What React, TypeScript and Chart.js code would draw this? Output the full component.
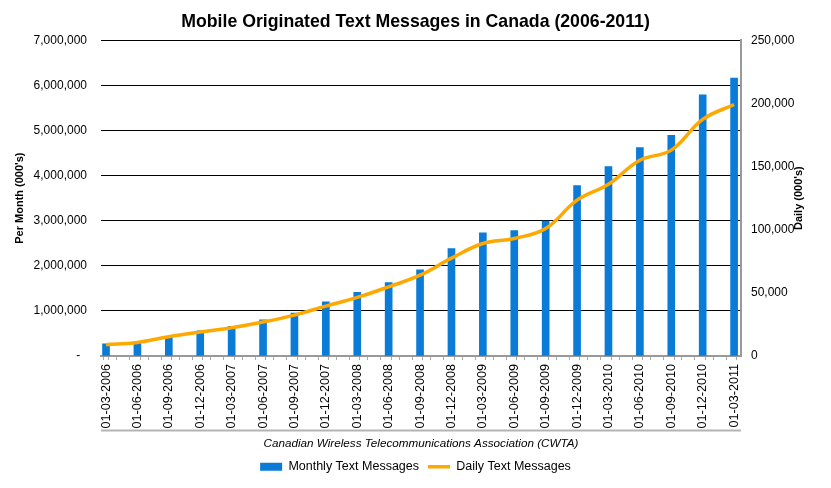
import { useEffect, useRef } from 'react'
import { Chart, registerables } from 'chart.js'

Chart.register(...registerables)

const FONT = "'Liberation Sans', Arial, sans-serif"

const dateLabels = [
  '01-03-2006', '01-06-2006', '01-09-2006', '01-12-2006',
  '01-03-2007', '01-06-2007', '01-09-2007', '01-12-2007',
  '01-03-2008', '01-06-2008', '01-09-2008', '01-12-2008',
  '01-03-2009', '01-06-2009', '01-09-2009', '01-12-2009',
  '01-03-2010', '01-06-2010', '01-09-2010', '01-12-2010',
  '01-03-2011',
]

// thousands of messages per month
const monthlyMessages = [
  270000, 290000, 420000, 560000, 660000, 800000, 950000, 1200000,
  1410000, 1630000, 1910000, 2380000, 2730000, 2780000, 2990000, 3780000,
  4200000, 4620000, 4890000, 5790000, 6160000,
]

// thousands of messages per day
const dailyMessages = [
  9000, 10800, 15300, 19000, 22400, 26900, 32400, 39500,
  46400, 54800, 64000, 77500, 89100, 93100, 101000, 123400,
  136000, 155000, 163000, 187300, 199100,
]

const X_MIN = -0.16
const X_MAX = 20.22

const CAPTION_SIZE = 11.7
const CAPTION_PAD = { top: 4, bottom: 1 }

const fmt = (v: number) => Math.round(v).toLocaleString('en-US')

// grey rule under the rotated date labels, and right axis title read bottom-to-top
const extrasPlugin = {
  id: 'extras',
  afterDraw(chart: Chart) {
    const ctx = chart.ctx
    const x = chart.scales.x
    const y1 = chart.scales.y1
    const captionBlock = CAPTION_SIZE * 1.2 + CAPTION_PAD.top + CAPTION_PAD.bottom
    const ruleY = x.bottom - captionBlock - 2
    ctx.save()
    ctx.strokeStyle = '#b4b4b4'
    ctx.lineWidth = 2
    ctx.beginPath()
    ctx.moveTo(chart.chartArea.left, ruleY)
    ctx.lineTo(chart.chartArea.right, ruleY)
    ctx.stroke()

    ctx.fillStyle = '#000'
    ctx.font = `bold 11px ${FONT}`
    ctx.textAlign = 'center'
    ctx.textBaseline = 'middle'
    ctx.translate(y1.right - (13.2 / 2 + 12.4), (chart.chartArea.top + chart.chartArea.bottom) / 2)
    ctx.rotate(-Math.PI / 2)
    ctx.fillText("Daily (000's)", 0, 0)
    ctx.restore()
  },
}

export default function App() {
  const canvasRef = useRef<HTMLCanvasElement>(null)

  useEffect(() => {
    if (!canvasRef.current) return
    const chart = new Chart(canvasRef.current, {
      type: 'bar',
      data: {
        datasets: [
          {
            type: 'line',
            label: 'Daily Text Messages',
            data: dailyMessages.map((v, i) => ({ x: i, y: v })),
            yAxisID: 'y1',
            borderColor: '#FFA800',
            backgroundColor: '#FFA800',
            borderWidth: 3.5,
            pointRadius: 0,
            tension: 0.4,
            pointStyle: 'line',
            order: 0,
          } as any,
          {
            type: 'bar',
            label: 'Monthly Text Messages',
            data: monthlyMessages.map((v, i) => ({ x: i, y: v })),
            yAxisID: 'y',
            backgroundColor: '#0A7BD6',
            borderWidth: 0,
            barThickness: 7,
            pointStyle: 'rect',
            order: 1,
          },
        ],
      },
      options: {
        animation: false,
        responsive: true,
        maintainAspectRatio: false,
        events: [],
        layout: { padding: { left: 13, right: 13, top: 0, bottom: 5 } },
        font: { family: FONT },
        plugins: {
          title: {
            display: true,
            text: 'Mobile Originated Text Messages in Canada (2006-2011)',
            color: '#000',
            font: { family: FONT, size: 17.7, weight: 'bold' },
            padding: { top: 11, bottom: 8 },
          },
          legend: {
            position: 'bottom',
            reverse: true,
            labels: {
              usePointStyle: true,
              pointStyleWidth: 22,
              boxHeight: 8,
              color: '#000',
              font: { family: FONT, size: 12.5 },
              padding: 9,
            },
          },
          tooltip: { enabled: false },
        },
        scales: {
          x: {
            type: 'linear',
            min: X_MIN,
            max: X_MAX,
            offset: false,
            afterBuildTicks: (scale: any) => {
              const ticks: { value: number }[] = []
              for (let i = 0; i < dateLabels.length; i++) {
                ticks.push({ value: i })
                for (let k = 1; k < 3; k++) {
                  const v = i + X_MIN + k / 3
                  if (v < X_MAX) ticks.push({ value: v })
                }
              }
              scale.ticks = ticks
            },
            ticks: {
              autoSkip: false,
              minRotation: 90,
              maxRotation: 90,
              padding: 4,
              color: '#000',
              font: { family: FONT, size: 12.6 },
              callback: (v: any) =>
                Number.isInteger(v) ? dateLabels[v] ?? '' : '',
            },
            grid: {
              drawOnChartArea: false,
              drawTicks: true,
              tickLength: 4,
              color: '#aaa',
            },
            border: { display: true, color: '#999', width: 2 },
            title: {
              display: true,
              text: 'Canadian Wireless Telecommunications Association (CWTA)',
              color: '#000',
              font: { family: FONT, size: CAPTION_SIZE, style: 'italic' },
              padding: CAPTION_PAD,
            },
          },
          y: {
            type: 'linear',
            position: 'left',
            min: 0,
            max: 7000000,
            afterFit: (scale: any) => {
              scale.width = 88
            },
            ticks: {
              stepSize: 1000000,
              padding: 14,
              color: '#000',
              font: { family: FONT, size: 12 },
              callback: (v: any) => (v === 0 ? '-  ' : fmt(v)),
            },
            grid: {
              drawTicks: false,
              color: (c: any) => (c.tick && c.tick.value === 0 ? 'rgba(0,0,0,0)' : '#000'),
              lineWidth: 1,
            },
            border: { display: false },
            title: {
              display: true,
              text: "Per Month (000's)",
              color: '#000',
              font: { family: FONT, size: 11, weight: 'bold' },
              padding: { top: 0, bottom: 4 },
            },
          },
          y1: {
            type: 'linear',
            position: 'right',
            min: 0,
            max: 250000,
            afterFit: (scale: any) => {
              scale.width = 77
            },
            ticks: {
              stepSize: 50000,
              padding: 10,
              color: '#000',
              font: { family: FONT, size: 12 },
              callback: (v: any) => fmt(v),
            },
            grid: { drawOnChartArea: false, drawTicks: false },
            border: { display: true, color: '#999', width: 2 },
            title: {
              display: true,
              text: "Daily (000's)",
              color: 'rgba(0,0,0,0)',
              font: { family: FONT, size: 11, weight: 'bold' },
              padding: { top: 12.4, bottom: 0 },
            },
          },
        },
      } as any,
      plugins: [extrasPlugin],
    })
    return () => chart.destroy()
  }, [])

  return (
    <div style={{ position: 'absolute', left: 0, top: 0, width: 831, height: 488, background: '#fff' }}>
      <canvas ref={canvasRef} />
    </div>
  )
}
